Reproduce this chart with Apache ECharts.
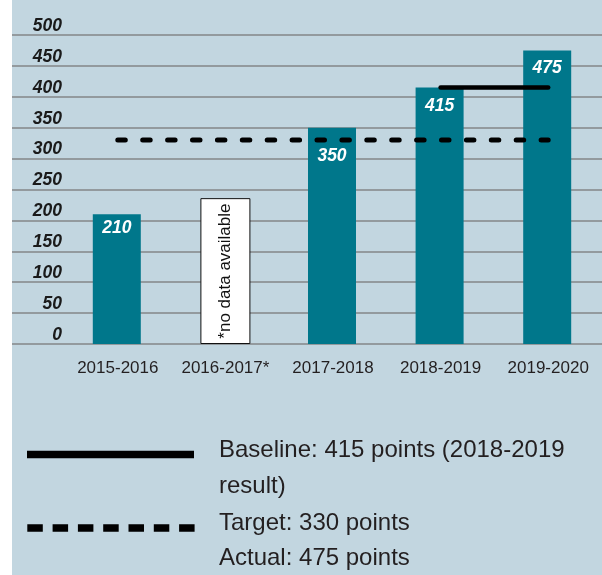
<!DOCTYPE html>
<html>
<head>
<meta charset="utf-8">
<script src="https://cdn.jsdelivr.net/npm/echarts@6/dist/echarts.min.js"></script>
<style>
  html, body { margin: 0; padding: 0; }
  body { width: 602px; height: 575px; background: linear-gradient(to right, #ffffff 0px, #ffffff 12px, #c2d6e0 12px); }
  #chart { width: 602px; height: 575px; }
</style>
</head>
<body>
<div id="chart"></div>
<script>
// ---- data ----
var categories = ['2015-2016', '2016-2017*', '2017-2018', '2018-2019', '2019-2020'];
var actualValues = [210, null, 350, 415, 475];
var noDataValues = [null, 236, null, null, null];
var noDataText = '*no data available';
var targetValues = [330, 330, 330, 330, 330];
var baselineValues = [null, null, null, 415, 415];
var yTicks = [0, 50, 100, 150, 200, 250, 300, 350, 400, 450, 500];
var legendLines = ['Baseline: 415 points (2018-2019', 'result)', 'Target: 330 points', 'Actual: 475 points'];

// ---- styles ----
var labelDistances = [5, 0, 19, 10, 9];
var font = "'Liberation Sans', Arial, sans-serif";

var chart = echarts.init(document.getElementById('chart'), null, { renderer: 'canvas' });

var barData = actualValues.map(function (v, i) {
  return {
    value: v,
    label: { distance: labelDistances[i] }
  };
});

var option = {
  backgroundColor: 'transparent',
  animation: false,
  grid: [
    { left: 12, right: 0, top: 35, bottom: 231 },
    { left: 64, right: -2, top: 35, bottom: 231 }
  ],
  xAxis: [
    { gridIndex: 0, type: 'value', show: false, min: 0, max: 1 },
    {
      gridIndex: 1, type: 'category', data: categories,
      axisLine: { show: false }, axisTick: { show: false },
      axisLabel: { interval: 0, margin: 16, fontSize: 17, color: '#231f20', fontFamily: font }
    }
  ],
  yAxis: [
    {
      gridIndex: 0, type: 'value', min: yTicks[0], max: yTicks[yTicks.length - 1], interval: yTicks[1] - yTicks[0],
      axisLine: { show: false }, axisTick: { show: false },
      splitLine: { show: true, lineStyle: { color: '#838688', width: 1.6 } },
      axisLabel: {
        margin: -50, align: 'right', verticalAlign: 'bottom',
        fontSize: 17.5, fontWeight: 'bold', fontStyle: 'italic', color: '#1a1a1a', fontFamily: font
      }
    },
    {
      gridIndex: 1, type: 'value', min: 0, max: 500, interval: 50, show: false,
      splitLine: { show: false }
    }
  ],
  series: [
    {
      type: 'bar', xAxisIndex: 1, yAxisIndex: 1, data: barData,
      barWidth: 48, barGap: '-100%', z: 3,
      itemStyle: { color: '#00778b' },
      label: {
        show: true, position: 'insideTop',
        color: '#ffffff', fontSize: 17.5, fontWeight: 'bold', fontStyle: 'italic', fontFamily: font
      }
    },
    {
      type: 'bar', xAxisIndex: 1, yAxisIndex: 1, data: noDataValues,
      barWidth: 50, z: 3,
      itemStyle: { color: '#ffffff', borderColor: '#111111', borderWidth: 1 },
      label: {
        show: true, position: 'inside', rotate: 90,
        formatter: function () { return noDataText; },
        color: '#111111', fontSize: 17, fontFamily: font
      }
    },
    {
      type: 'line', xAxisIndex: 1, yAxisIndex: 1, data: targetValues,
      symbol: 'none', z: 5,
      lineStyle: { color: '#000000', width: 5, type: [7.5, 17.4], cap: 'round' }
    },
    {
      type: 'line', xAxisIndex: 1, yAxisIndex: 1, data: baselineValues,
      symbol: 'none', z: 5, connectNulls: false,
      lineStyle: { color: '#000000', width: 4.5, cap: 'round' }
    }
  ],
  graphic: [
    { type: 'line', shape: { x1: 27, y1: 454.5, x2: 194, y2: 454.5 }, style: { stroke: '#000', lineWidth: 7.5 } },
    { type: 'line', shape: { x1: 27.3, y1: 528, x2: 195, y2: 528 }, style: { stroke: '#000', lineWidth: 7.3, lineDash: [15.5, 9.8] } },
    { type: 'text', x: 219, y: 450, style: { text: legendLines[0], fontSize: 24, fontFamily: font, fill: '#231f20', verticalAlign: 'middle' } },
    { type: 'text', x: 219, y: 486.5, style: { text: legendLines[1], fontSize: 24, fontFamily: font, fill: '#231f20', verticalAlign: 'middle' } },
    { type: 'text', x: 219, y: 523, style: { text: legendLines[2], fontSize: 24, fontFamily: font, fill: '#231f20', verticalAlign: 'middle' } },
    { type: 'text', x: 219, y: 558.5, style: { text: legendLines[3], fontSize: 24, fontFamily: font, fill: '#231f20', verticalAlign: 'middle' } }
  ]
};
chart.setOption(option);
</script>
</body>
</html>
